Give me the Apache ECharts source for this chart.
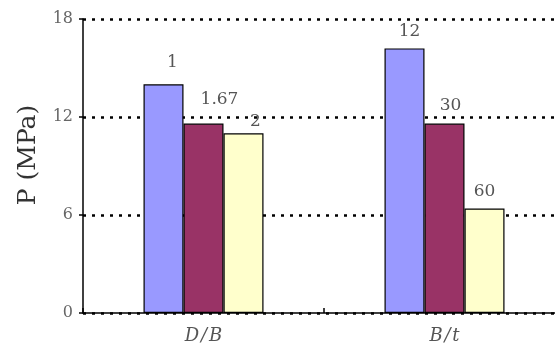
<!DOCTYPE html>
<html>
<head>
<meta charset="utf-8">
<script src="https://cdn.jsdelivr.net/npm/echarts@6/dist/echarts.min.js"></script>
<style>
html,body{margin:0;padding:0;background:#fff;overflow:hidden;width:555px;height:349px;}
#chart{width:565px;height:349px;}
</style>
</head>
<body>
<div id="chart"></div>
<script>
const categories = ['D/B', 'B/t'];
const seriesA = [14.0, 16.2];
const seriesB = [11.6, 11.6];
const seriesC = [11.0, 6.4];
const labelsA = ['1', '12'];
const labelsB = ['1.67', '30'];
const labelsC = ['2', '60'];
const yTicks = [0, 6, 12, 18];

const colors = ['#9999ff', '#993366', '#ffffcc'];
const labelOffsets = [[[9, -5], [5, 0]], [[16, -7], [6, -1]], [[12, 5], [0, 0]]];
const font = '"DejaVu Serif", "Liberation Serif", serif';

function mkSeries(vals, labels, idx) {
  return {
    type: 'bar',
    barWidth: 40,
    barGap: '0%',
    barCategoryGap: '50%',
    data: vals.map((v, i) => ({
      value: v,
      label: { formatter: labels[i], offset: labelOffsets[idx][i] }
    })),
    itemStyle: { color: colors[idx], borderColor: '#000', borderWidth: 1.2 },
    label: {
      show: true, position: 'top', distance: 8,
      color: '#555', fontFamily: font, fontSize: 17
    }
  };
}

const chart = echarts.init(document.getElementById('chart'), null, { renderer: 'canvas' });
chart.setOption({
  animation: false,
  grid: { left: 83, top: 19, right: 0, bottom: 36, containLabel: false },
  xAxis: {
    type: 'category',
    data: categories,
    axisLine: { lineStyle: { color: '#000', width: 1.5 } },
    axisTick: { show: true, inside: true, length: 5, lineStyle: { color: '#000', width: 1.5 } },
    axisLabel: { color: '#555', fontFamily: font, fontStyle: 'italic', fontSize: 18, margin: 14,
      formatter: v => v.split('').join('\u200A') }
  },
  yAxis: {
    type: 'value',
    min: 0, max: 18, interval: 6,
    name: 'P (MPa)',
    nameLocation: 'middle',
    nameGap: 42,
    nameRotate: 90,
    nameTextStyle: { color: '#333', fontFamily: font, fontSize: 25, padding: [0, 0, 0, 22] },
    axisLine: { show: true, lineStyle: { color: '#000', width: 1.5 } },
    axisTick: { show: true, inside: false, length: 4, lineStyle: { color: '#000', width: 1.5 } },
    axisLabel: { color: '#666', fontFamily: font, fontSize: 16, margin: 10,
      formatter: v => yTicks.includes(v) ? String(v) : '' },
    splitLine: { show: true, lineStyle: { color: '#000', width: 2.5, type: [3, 6] } }
  },
  series: [
    mkSeries(seriesA, labelsA, 0),
    mkSeries(seriesB, labelsB, 1),
    mkSeries(seriesC, labelsC, 2)
  ]
});
</script>
</body>
</html>
